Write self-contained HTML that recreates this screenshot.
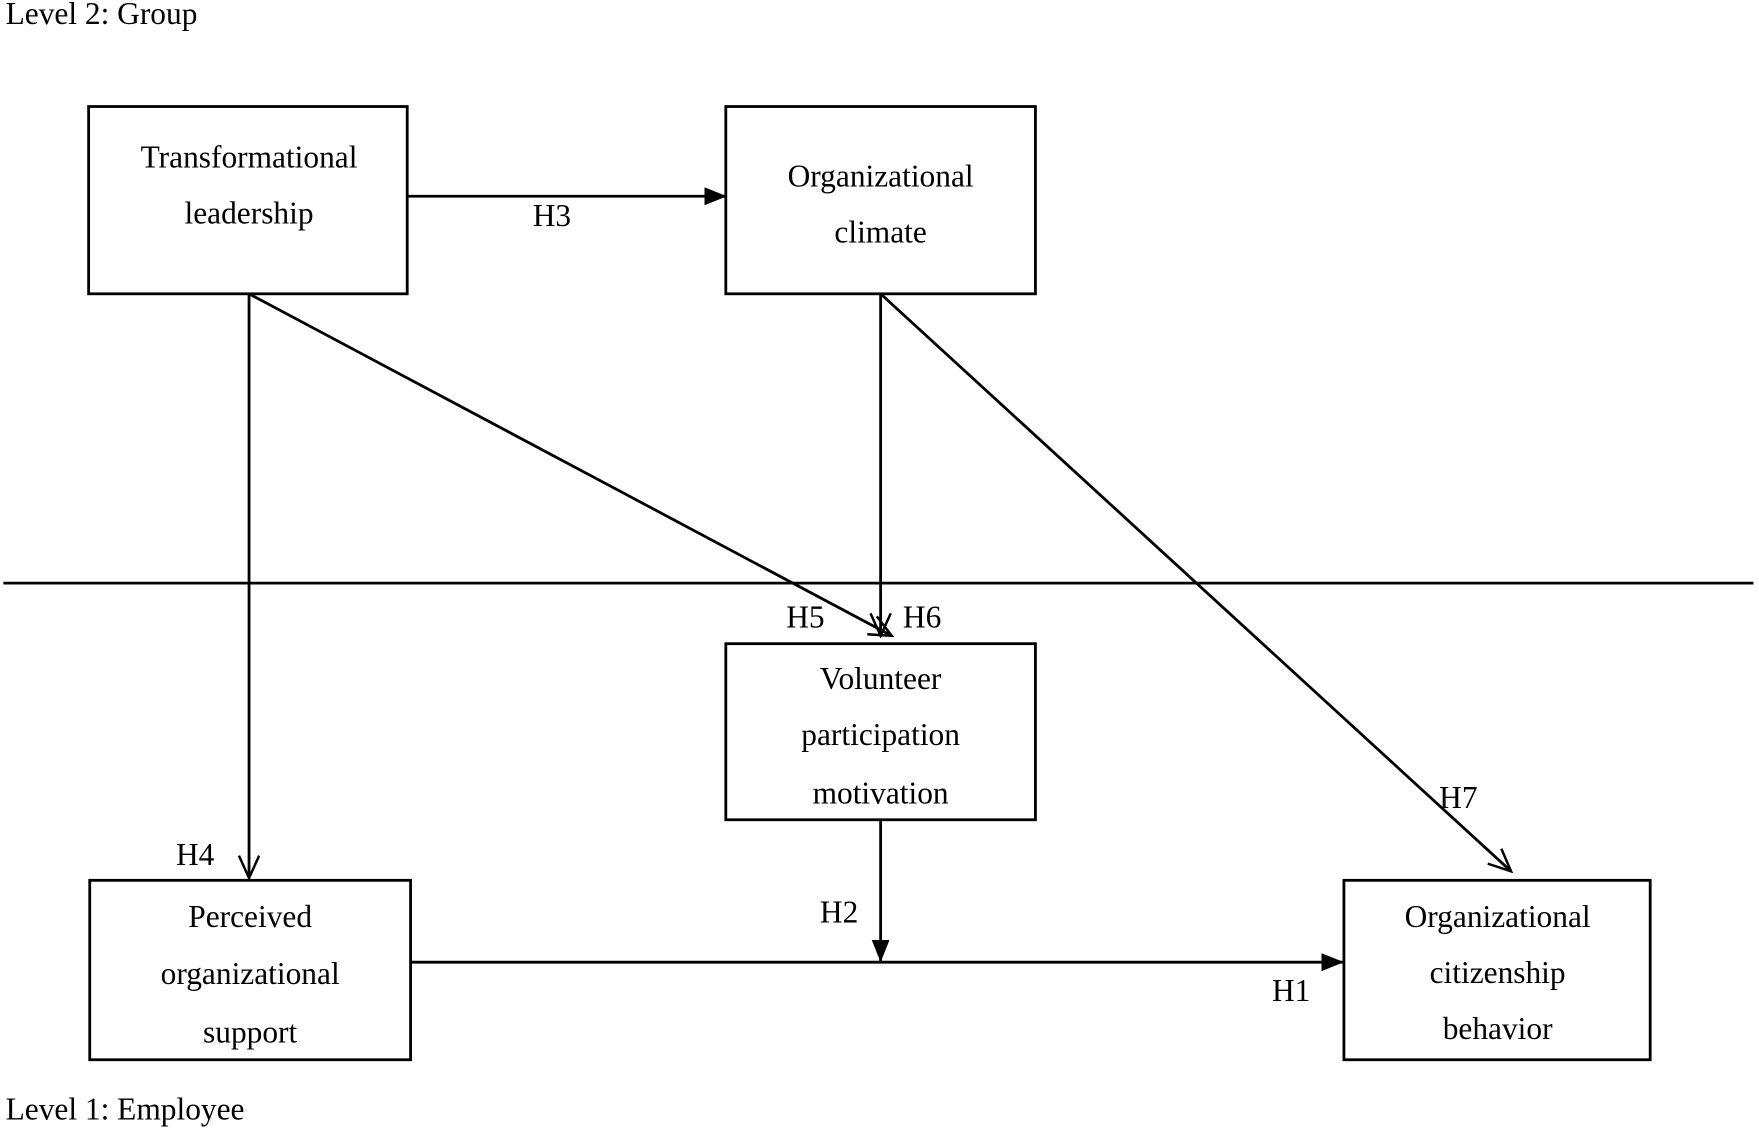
<!DOCTYPE html>
<html><head><meta charset="utf-8"><style>html,body{margin:0;padding:0;background:#fff}svg{display:block}</style></head>
<body>
<svg width="1759" height="1136" viewBox="0 0 1568 1013" preserveAspectRatio="none" xmlns="http://www.w3.org/2000/svg" font-family="Liberation Serif, serif" font-size="28" fill="#000">
<defs>
<marker id="f" markerWidth="12" markerHeight="12" refX="11" refY="6" orient="auto" markerUnits="userSpaceOnUse" viewBox="0 0 12 12"><path d="M0,0 L12,6 L0,12 z" fill="#000" transform="scale(1.6)" /></marker>
<marker id="fa" viewBox="0 0 20 16" markerWidth="20" markerHeight="16" refX="19" refY="8" orient="auto" markerUnits="userSpaceOnUse"><path d="M0,0 L20,8 L0,16 z" fill="#000"/></marker>
<marker id="o" viewBox="0 0 24 24" markerWidth="24" markerHeight="24" refX="22" refY="12" orient="auto" markerUnits="userSpaceOnUse"><path d="M2,3 L22,12 L2,21" fill="none" stroke="#000" stroke-width="2.2"/></marker>
</defs>
<g stroke="#000" stroke-width="2.5" fill="none">
<rect x="79" y="95" width="284" height="167"/>
<rect x="647" y="95" width="276" height="167"/>
<rect x="647" y="574" width="276" height="157"/>
<rect x="80" y="785" width="286" height="160"/>
<rect x="1198" y="785" width="273" height="160"/>
<line x1="3" y1="520" x2="1563" y2="520"/>
<line x1="363" y1="175" x2="647" y2="175" marker-end="url(#fa)"/>
<line x1="222" y1="262" x2="222" y2="783" marker-end="url(#o)"/>
<line x1="222" y1="262" x2="795" y2="567" marker-end="url(#o)"/>
<line x1="785" y1="262" x2="785" y2="567" marker-end="url(#o)"/>
<line x1="785" y1="262" x2="1347" y2="777" marker-end="url(#o)"/>
<line x1="785" y1="731" x2="785" y2="857" marker-end="url(#fa)"/>
<line x1="366" y1="858" x2="1197" y2="858" marker-end="url(#fa)"/>
</g>
<g dominant-baseline="middle">
<text x="5" y="15">Level 2: Group</text>
<text x="5" y="992">Level 1: Employee</text>
<g text-anchor="middle">
<text x="222" y="143">Transformational</text>
<text x="222" y="193">leadership</text>
<text x="785" y="160">Organizational</text>
<text x="785" y="210">climate</text>
<text x="785" y="608">Volunteer</text>
<text x="785" y="658">participation</text>
<text x="785" y="710">motivation</text>
<text x="223" y="820">Perceived</text>
<text x="223" y="871">organizational</text>
<text x="223" y="923">support</text>
<text x="1335" y="820">Organizational</text>
<text x="1335" y="870">citizenship</text>
<text x="1335" y="920">behavior</text>
<text x="492" y="195">H3</text>
<text x="174" y="765">H4</text>
<text x="718" y="553">H5</text>
<text x="822" y="553">H6</text>
<text x="1300" y="714">H7</text>
<text x="748" y="816">H2</text>
<text x="1151" y="886">H1</text>
</g>
</g>
</svg>
</body></html>
